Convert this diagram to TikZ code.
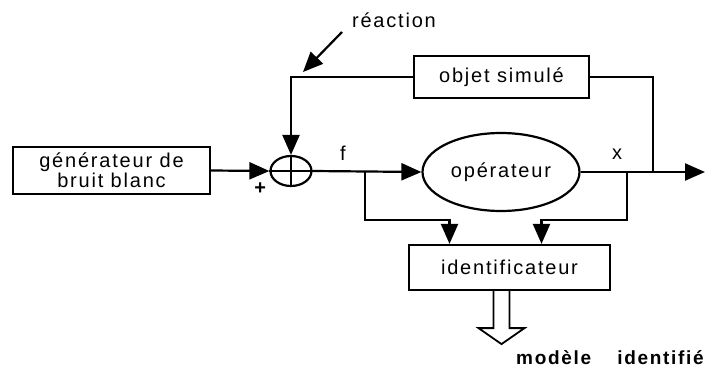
\documentclass[tikz,border=0pt]{standalone}
\usepackage{fontspec}
\setmainfont{Liberation Sans}[LetterSpace=9]
\usetikzlibrary{shapes.geometric, arrows.meta, positioning, calc}
\tikzstyle{block} = [rectangle, draw=black, line width=2.2pt, align=center, inner sep=2pt]
\tikzstyle{opblock} = [ellipse, draw=black, line width=2.2pt, inner sep=0pt]
\tikzstyle{wire} = [line width=2.2pt]
\tikzstyle{arrow} = [wire, -{Triangle[length=20pt, width=17pt]}]
\tikzstyle{lbl} = [inner sep=0pt]

\begin{document}
\begin{tikzpicture}[x=1pt, y=-1pt, font=\fontsize{20}{17}\selectfont]
  \useasboundingbox (0,0) rectangle (723,369);

  % Blocks
  \node[block, minimum width=197pt, minimum height=47pt](gen) at (111.5,170.5)
    {générateur de\\bruit blanc};
  \node[opblock, minimum width=41pt, minimum height=30pt](sum) at (291,171){};
  \node[opblock, minimum width=157pt, minimum height=78pt](op) at (501,172){opérateur};
  \node[block, minimum width=175pt, minimum height=42pt](obj) at (501.5,77){objet\ simulé};
  \node[block, minimum width=201pt, minimum height=45pt](ident) at (509.5,267.5){identificateur};

  \draw[wire, line width=1.8pt](sum.north)--(sum.south) (sum.west)--(sum.east);

  % Junctions
  \coordinate (tf) at (365,172);
  \coordinate (tx) at (627,172);
  \coordinate (jx) at (653,172);
  \coordinate (out) at (705,172);
  \coordinate (rs) at (342,32);
  \coordinate (rt) at (303,72);

  \draw[arrow](gen.east)--(sum.west);
  \draw[arrow](sum.east)--(op.west);
  \draw[arrow](op.east)--(out);
  \draw[wire](obj.east)-|(jx);
  \draw[arrow](obj.west)-|(sum.north);
  \draw[arrow](rs)--(rt);
  \draw[arrow](tf)--++(0,48)-|([xshift=-60pt]ident.north);
  \draw[arrow](tx)--++(0,48)-|([xshift=32pt]ident.north);

  % Output arrow
  \draw[wire, line width=1.8pt]([xshift=-16pt]ident.south)--++(0,37)--++(-15,0)
    --++(23,16)--++(23,-16)--++(-15,0)--(ident.south);

  % Labels
  \node[lbl](react) at (394,20){réaction};
  \node[lbl](plus) at (261,189){\textbf{+}};
  \node[lbl](flbl) at (343,153){f};
  \node[lbl](xlbl) at (617,154){x};
  \node[lbl, anchor=base, font=\fontsize{19}{17}\selectfont\bfseries](model) at (610,364)
    {modèle\quad\ identifié};
\end{tikzpicture}
\end{document}
